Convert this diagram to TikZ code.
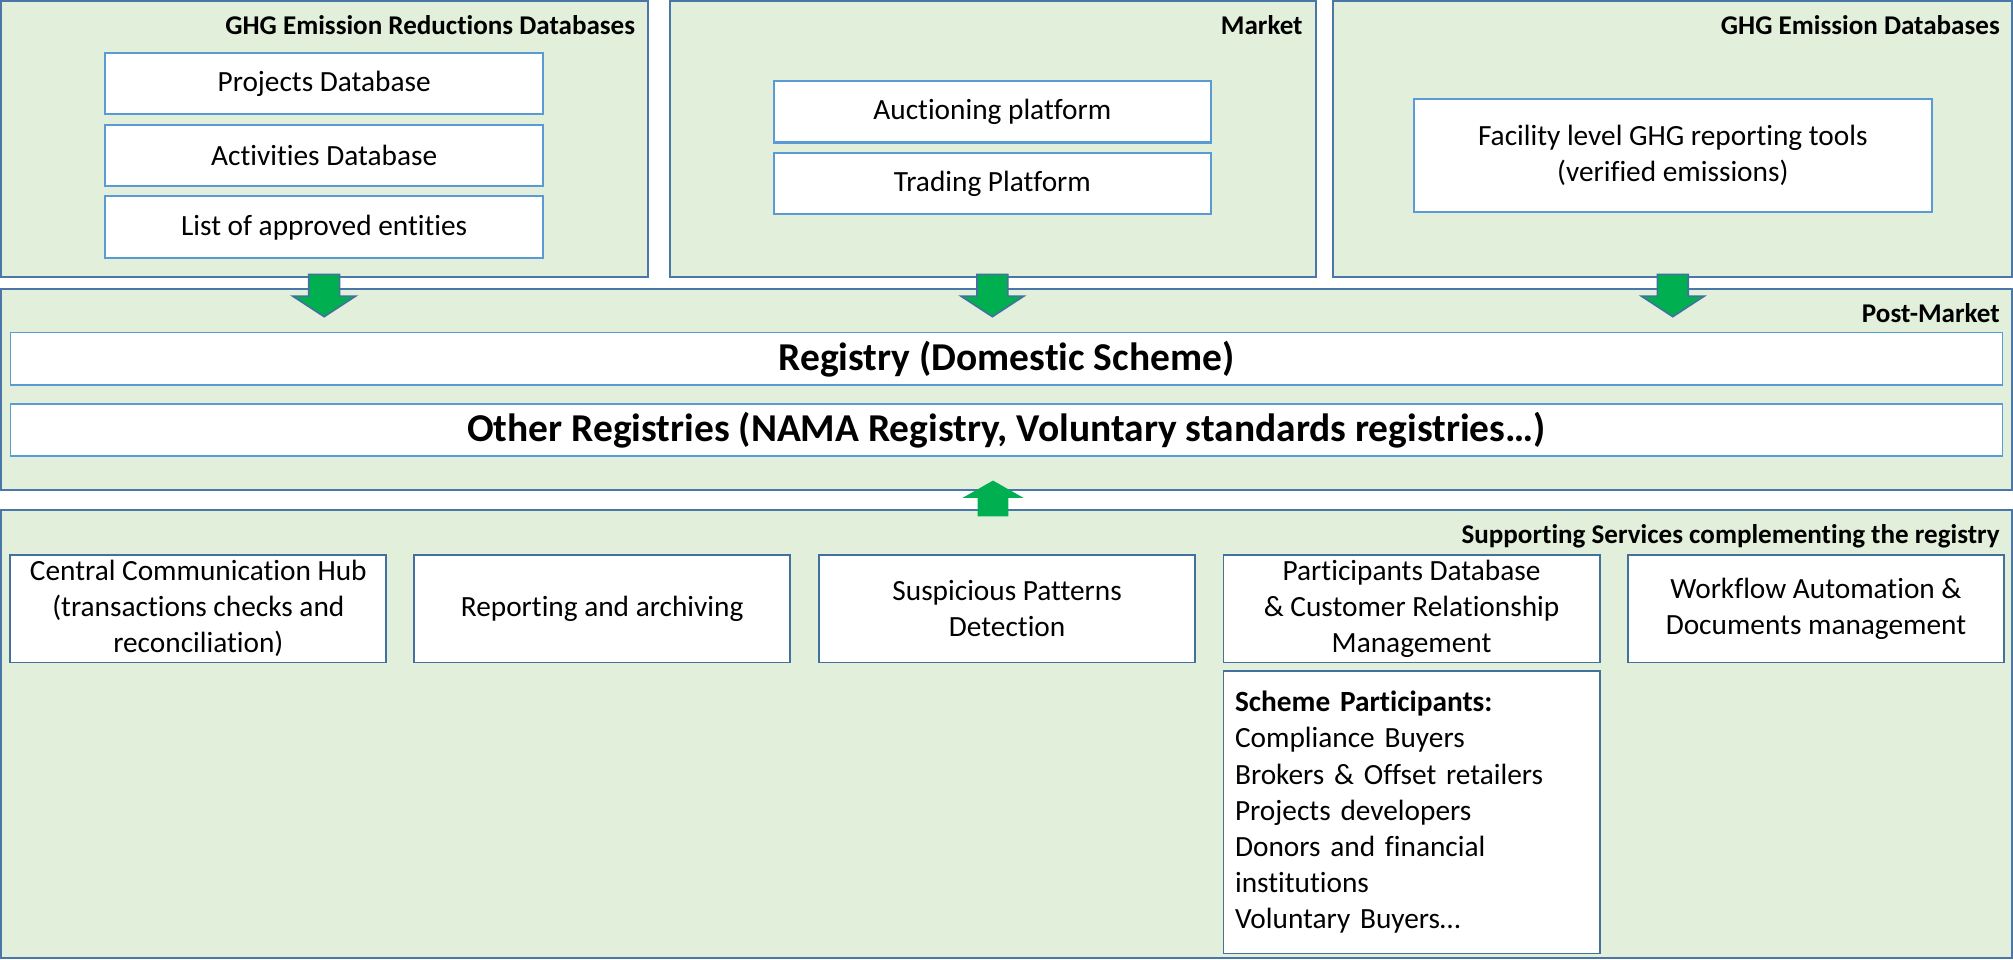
\documentclass[tikz,border=0pt]{standalone}
\usepackage{fontspec}
\setmainfont[RawFeature={-liga}]{Carlito}
\usetikzlibrary{positioning}

\definecolor{panelgreen}{RGB}{226,239,218}
\definecolor{panelline}{RGB}{74,118,168}
\definecolor{lightline}{RGB}{91,155,213}
\definecolor{darkline}{RGB}{65,113,156}
\definecolor{arrowgreen}{RGB}{0,176,80}

\tikzset{
  panel/.style={draw=panelline, fill=panelgreen, line width=0.8pt, inner sep=0pt},
  head/.style={font=\fontsize{12}{14}\selectfont\bfseries, inner sep=0pt, anchor=base east},
  topbox/.style={draw=lightline, fill=white, line width=0.9pt, align=center,
    font=\fontsize{13}{16}\selectfont, inner sep=2pt},
  regbox/.style={draw=lightline, fill=white, line width=0.8pt, align=center,
    font=\fontsize{17.5}{20}\selectfont\bfseries, inner sep=0pt,
    minimum width=31.04cm},
  servbox/.style={draw=darkline, fill=white, line width=0.8pt, align=center,
    font=\fontsize{13}{16}\selectfont, inner sep=2pt,
    minimum width=5.86cm, minimum height=1.68cm},
  downarrow/.pic={
    \draw[fill=arrowgreen, draw=darkline, line width=0.7pt]
      (-12,0) -- (12,0) -- (12,17) -- (24.5,17) -- (0,33) -- (-24.5,17) -- (-12,17) -- cycle;
  },
  uparrow/.pic={
    \draw[fill=arrowgreen, draw=arrowgreen, line width=0.5pt]
      (-11.5,0) -- (11.5,0) -- (11.5,-14.5) -- (22,-14.5) -- (0,-27) -- (-22,-14.5) -- (-11.5,-14.5) -- cycle;
  }
}

\begin{document}
\begin{tikzpicture}[x=0.02cm, y=-0.02cm]
  \useasboundingbox[fill=white] (0,0) rectangle (1568,747);

  % upper row of panels
  \node[panel, minimum width=10.08cm, minimum height=4.30cm] (reduct) at (253,108.5) {};
  \node[panel, minimum width=10.06cm, minimum height=4.30cm] (market) at (773.5,108.5) {};
  \node[panel, minimum width=10.58cm, minimum height=4.30cm] (emiss) at (1302.5,108.5) {};
  \node[head] (reducthead) at (495,27) {GHG Emission Reductions Databases};
  \node[head] (markethead) at (1015,27) {Market};
  \node[head] (emisshead) at (1558,27) {GHG Emission Databases};

  \node[topbox, minimum width=6.82cm, minimum height=0.96cm] (projects) at (252.5,65) {Projects Database};
  \node[topbox, minimum width=6.82cm, minimum height=0.96cm] (activities) at (252.5,121) {Activities Database};
  \node[topbox, minimum width=6.82cm, minimum height=0.96cm] (entities) at (252.5,177) {List of approved entities};
  \node[topbox, minimum width=6.80cm, minimum height=0.96cm] (auction) at (773,87) {Auctioning platform};
  \node[topbox, minimum width=6.80cm, minimum height=0.96cm] (trading) at (773,143) {Trading Platform};
  \node[topbox, minimum width=8.08cm, minimum height=1.76cm] (facility) at (1303,121)
    {Facility level GHG reporting tools\\(verified emissions)};

  % post-market
  \node[panel, minimum width=31.34cm, minimum height=3.14cm] (post) at (784,303.5) {};
  \node[head] (posthead) at (1558,251) {Post-Market};
  \node[regbox, minimum height=0.82cm] (registry) at (784,279.5) {Registry (Domestic Scheme)};
  \node[regbox, minimum height=0.81cm] (others) at (784,334.75)
    {Other Registries (NAMA Registry, Voluntary standards registries…)};

  % supporting services
  \node[panel, minimum width=31.34cm, minimum height=6.98cm] (support) at (784,571.5) {};
  \node[head] (supporthead) at (1558,423.5) {Supporting Services complementing the registry};
  \node[servbox] (hub) at (154.5,474) {Central Communication Hub\\(transactions checks and\\reconciliation)};
  \node[servbox] (reporting) at (469,474) {Reporting and archiving};
  \node[servbox] (patterns) at (784.5,474) {Suspicious Patterns\\Detection};
  \node[servbox] (crm) at (1099.5,474) {Participants Database\\\& Customer Relationship\\Management};
  \node[servbox] (workflow) at (1414.5,474) {Workflow Automation \&\\Documents management};
  \node[servbox, minimum height=4.40cm, anchor=north, align=left, text width=5.5cm,
    inner xsep=0.18cm] (participants) at (1099.5,522)
    {\textbf{Scheme Participants:}\\Compliance Buyers\\Brokers \& Offset retailers\\Projects developers\\Donors and financial\\institutions\\Voluntary Buyers…};

  % block arrows between the layers
  \pic[yshift=0.06cm] at (reduct.south -| projects.south) {downarrow};
  \pic[yshift=0.06cm] at (market.south -| auction.south) {downarrow};
  \pic[yshift=0.06cm] at (emiss.south -| facility.south) {downarrow};
  \pic[yshift=-0.11cm] at (support.north -| market.south) {uparrow};
\end{tikzpicture}
\end{document}
